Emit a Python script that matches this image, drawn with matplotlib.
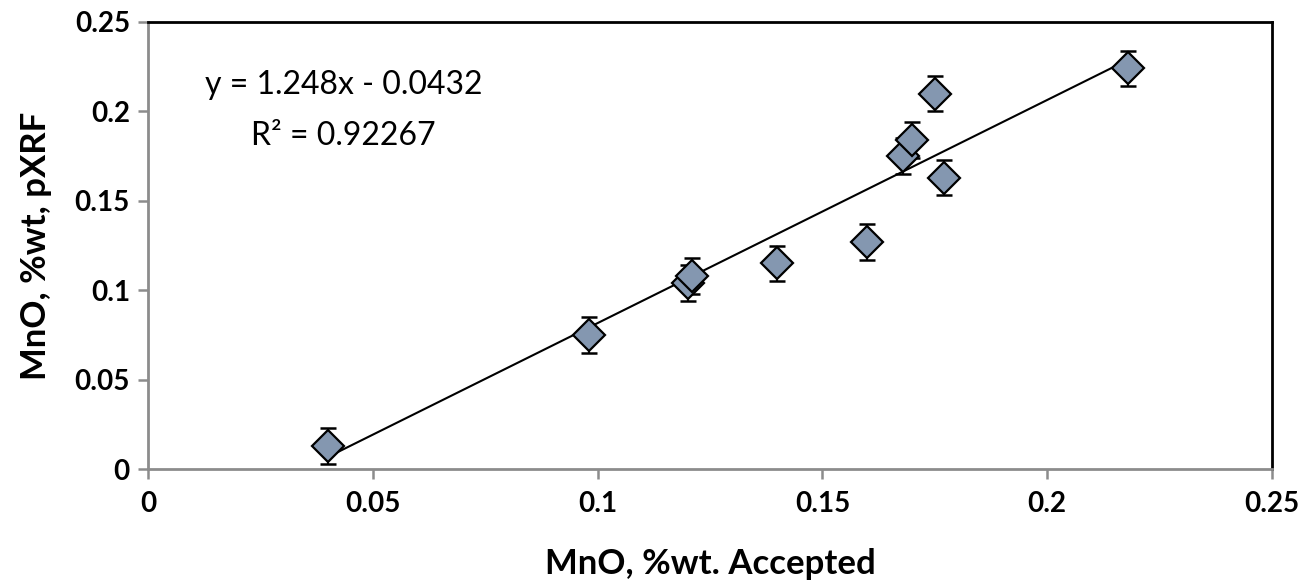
import matplotlib.pyplot as plt
import numpy as np

mno_accepted = [0.040, 0.098, 0.120, 0.121, 0.140, 0.160, 0.168, 0.170, 0.175, 0.177, 0.218]
mno_pxrf = [0.013, 0.075, 0.104, 0.108, 0.115, 0.127, 0.175, 0.184, 0.210, 0.163, 0.224]
pxrf_err = [0.010, 0.010, 0.010, 0.010, 0.010, 0.010, 0.010, 0.010, 0.010, 0.010, 0.010]

# trendline from the chart annotation
slope = 1.248
intercept = -0.0432
r_squared = 0.92267

ticks = [0, 0.05, 0.1, 0.15, 0.2, 0.25]
tick_labels = ['0', '0.05', '0.1', '0.15', '0.2', '0.25']

plt.rcParams['font.family'] = ['Lato', 'DejaVu Sans']
plt.rcParams['font.weight'] = 'bold'

fig = plt.figure(figsize=(13.04, 5.87), dpi=100)
ax = fig.add_axes([148 / 1304, 1 - 469 / 587, (1272 - 148) / 1304, (469 - 22) / 587])

# trendline across the data range
xs = np.array([min(mno_accepted), max(mno_accepted)])
ax.plot(xs, slope * xs + intercept, color='black', linewidth=1.5, zorder=3)

ax.errorbar(mno_accepted, mno_pxrf, yerr=pxrf_err, fmt='none', ecolor='black',
            elinewidth=1.5, capsize=6, capthick=1.8, zorder=2)
ax.plot(mno_accepted, mno_pxrf, linestyle='none', marker='D', markersize=16,
        markerfacecolor='#8497B0', markeredgecolor='black', markeredgewidth=1.6, zorder=4)

ax.set_xlim(0, 0.25)
ax.set_ylim(0, 0.25)
ax.set_xticks(ticks)
ax.set_xticklabels(tick_labels, fontweight='bold', fontsize=20)
ax.set_yticks(ticks)
ax.set_yticklabels(tick_labels, fontweight='bold', fontsize=20)

ax.tick_params(axis='both', direction='out', length=7, width=1.8, color='#8c8c8c')
ax.tick_params(axis='x', pad=9)
ax.tick_params(axis='y', pad=6)

for side in ['left', 'bottom']:
    ax.spines[side].set_color('#8c8c8c')
    ax.spines[side].set_linewidth(2)
for side in ['top', 'right']:
    ax.spines[side].set_color('black')
    ax.spines[side].set_linewidth(2)

ax.set_xlabel('MnO, %wt. Accepted', fontsize=25, fontweight='bold', labelpad=22)
ax.set_ylabel('MnO, %wt, pXRF', fontsize=25, fontweight='bold', labelpad=16)

ax.text(0.0435, 0.215, f'y = {slope}x - {abs(intercept)}', fontsize=23,
        fontweight='normal', ha='center', va='center')
ax.text(0.0435, 0.1865, f'R² = {r_squared}', fontsize=23,
        fontweight='normal', ha='center', va='center')

fig.savefig('out.png', dpi=100)
